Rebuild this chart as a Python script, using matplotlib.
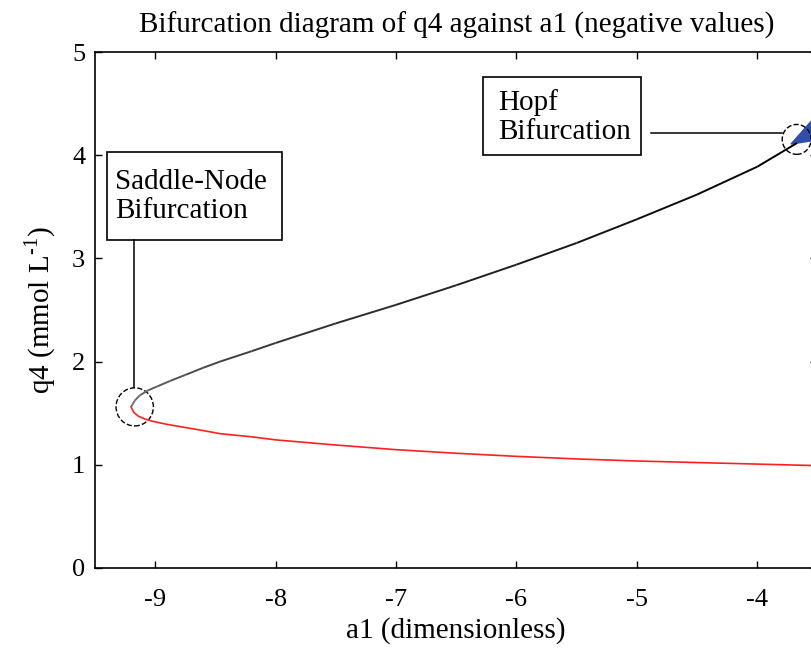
import numpy as np
import matplotlib
matplotlib.use("Agg")
import matplotlib.pyplot as plt
from matplotlib.collections import LineCollection
from matplotlib.patches import Ellipse, Rectangle, Polygon

plt.rcParams['font.family'] = ['Liberation Serif', 'DejaVu Serif']
plt.rcParams['mathtext.fontset'] = 'custom'
plt.rcParams['mathtext.rm'] = 'Liberation Serif'
plt.rcParams['axes.unicode_minus'] = False

# ---- branch data (a1, q4) ----
upper_a1 = [-9.20, -9.17, -9.13, -9.06, -8.98, -8.88, -8.75, -8.60, -8.46, -8.20,
            -8.00, -7.50, -7.00, -6.50, -6.00, -5.50, -5.00, -4.50, -4.00, -3.67]
upper_q4 = [1.56, 1.62, 1.67, 1.72, 1.76, 1.81, 1.87, 1.94, 2.00, 2.10,
            2.18, 2.37, 2.55, 2.74, 2.94, 3.15, 3.38, 3.62, 3.89, 4.12]

lower_a1 = [-9.20, -9.18, -9.14, -9.08, -9.02, -8.90, -8.75, -8.60, -8.46, -8.20,
            -8.00, -7.50, -7.00, -6.50, -6.00, -5.50, -5.00, -4.50, -4.00, -3.50]
lower_q4 = [1.56, 1.51, 1.47, 1.44, 1.42, 1.39, 1.36, 1.33, 1.30, 1.27,
            1.24, 1.19, 1.145, 1.11, 1.08, 1.055, 1.035, 1.02, 1.005, 0.99]

# bifurcation points
hopf_a1, hopf_q4 = -3.673, 4.155
sn_a1, sn_q4 = -9.17, 1.56

# periodic branch leaving the Hopf point
orbit_a1 = [-3.72, -3.50, -3.50]
orbit_q4 = [4.11, 4.40, 4.15]

x_ticks = [-9, -8, -7, -6, -5, -4]
y_ticks = [0, 1, 2, 3, 4, 5]

fig = plt.figure(figsize=(8.11, 6.49), dpi=100)
ax = fig.add_axes([0.1171, 0.1253, 0.8909, 0.7941])

# upper branch, gray fading to black
pts = np.column_stack([upper_a1, upper_q4])
segs = np.stack([pts[:-1], pts[1:]], axis=1)
shade = np.linspace(0.45, 0.0, len(segs))
lc = LineCollection(segs, colors=[(s, s, s) for s in shade], linewidths=1.4)
ax.add_collection(lc)

ax.plot(lower_a1, lower_q4, color='#ff2020', lw=1.2)

ax.add_patch(Polygon(np.column_stack([orbit_a1, orbit_q4]), closed=True,
                     facecolor='#2f4fa8', edgecolor='#2f4fa8', clip_on=True))

# markers round the bifurcation points
ax.add_patch(Ellipse((sn_a1, sn_q4), 0.31, 0.37, fill=False, ls='--', lw=1.0, ec='black'))
ax.add_patch(Ellipse((hopf_a1, hopf_q4), 0.24, 0.29, fill=False, ls='--', lw=1.0, ec='black'))

# annotation boxes and leaders
ax.add_patch(Rectangle((-9.403, 3.178), 1.455, 0.857, fill=False, lw=1.2, ec='black'))
ax.text(-9.334, 3.60, "Saddle-Node\nBifurcation", fontsize=21, va='center', ha='left',
        linespacing=1.15)
ax.plot([-9.18, -9.18], [3.178, sn_q4 + 0.195], color='black', lw=1.1)

ax.add_patch(Rectangle((-6.277, 4.003), 1.313, 0.754, fill=False, lw=1.2, ec='black'))
ax.text(-6.15, 4.37, "Hopf\nBifurcation", fontsize=21, va='center', ha='left',
        linespacing=1.15)
ax.plot([-4.886, hopf_a1 - 0.118], [4.213, 4.213], color='black', lw=1.1)

ax.set_xlim(-9.5, -3.5)
ax.set_ylim(0, 5)
ax.set_xticks(x_ticks)
ax.set_yticks(y_ticks)
ax.tick_params(direction='in', length=5, width=1.0, top=True, right=True,
               labelsize=19)
ax.tick_params(axis='x', pad=15)
ax.tick_params(axis='y', pad=7)
for sp in ax.spines.values():
    sp.set_linewidth(1.2)

ax.set_title("Bifurcation diagram of q4 against a1 (negative values)", fontsize=21, pad=14)
ax.set_xlabel("a1 (dimensionless)", fontsize=21, labelpad=5)
ax.set_ylabel("q4 (mmol L$^{\\text{-1}}$)", fontsize=21, labelpad=10)

fig.savefig("out.png", dpi=100)
